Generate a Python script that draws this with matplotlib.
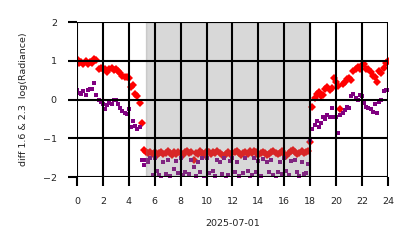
import numpy as np
import matplotlib
matplotlib.use('Agg')
import matplotlib.pyplot as plt

# 10-minute samples over the day, hours 0 .. 24
hours = np.arange(145) / 6.0

red_vals = [
    1.05, 0.95, 0.97, 0.93, 1.00, 0.92,
    0.97, 0.95, 1.05, 1.02, 0.78, 0.82,
    0.78, 0.80, 0.72, 0.78, 0.82, 0.76,
    0.80, 0.74, 0.68, 0.62, 0.58, 0.57,
    0.55, 0.33, 0.38, 0.15, 0.10, -0.10,
    -0.60, -1.30, -1.35, -1.38, -1.35, -1.40,
    -1.36, -1.42, -1.38, -1.35, -1.40, -1.37,
    -1.33, -1.38, -1.42, -1.36, -1.40, -1.35,
    -1.38, -1.44, -1.36, -1.33, -1.39, -1.35,
    -1.55, -1.38, -1.40, -1.34, -1.38, -1.42,
    -1.32, -1.36, -1.40, -1.35, -1.38, -1.34,
    -1.37, -1.42, -1.45, -1.40, -1.36, -1.41,
    -1.38, -1.35, -1.33, -1.37, -1.42, -1.38,
    -1.36, -1.40, -1.34, -1.38, -1.33, -1.36,
    -1.42, -1.38, -1.35, -1.39, -1.44, -1.40,
    -1.36, -1.33, -1.38, -1.41, -1.37, -1.34,
    -1.40, -1.45, -1.38, -1.33, -1.30, -1.36,
    -1.40, -1.37, -1.34, -1.38, -1.35, -1.32,
    -1.10, -0.20, 0.05, 0.15, 0.20, 0.10,
    0.12, 0.28, 0.32, 0.25, 0.30, 0.55,
    0.45, 0.35, -0.25, 0.40, 0.45, 0.52,
    0.55, 0.50, 0.75, 0.80, 0.85, 0.78,
    0.88, 0.92, 0.80, 0.78, 0.70, 0.62,
    0.58, 0.45, 0.75, 0.68, 0.82, 0.95,
    1.00,
]

purple_vals = [
    0.25, 0.18, 0.15, 0.22, 0.12, 0.25,
    0.26, 0.28, 0.42, 0.12, -0.02, -0.05,
    -0.12, -0.25, -0.15, -0.08, -0.12, -0.02,
    0.00, -0.12, -0.22, -0.30, -0.35, -0.36,
    -0.25, -0.70, -0.55, -0.68, -0.75, -0.70,
    -1.55, -1.70, -1.55, -1.62, -1.50, -1.95,
    -1.52, -1.85, -1.95, -2.05, -1.60, -1.92,
    -1.55, -1.98, -2.10, -1.78, -1.58, -1.90,
    -1.52, -1.95, -1.88, -2.08, -1.93, -1.55,
    -1.75, -1.97, -1.62, -1.88, -1.52, -2.05,
    -1.50, -1.90, -2.12, -1.85, -1.98, -1.55,
    -1.60, -1.92, -1.52, -2.06, -1.95, -1.58,
    -1.50, -1.88, -1.62, -1.97, -2.10, -1.90,
    -1.52, -1.85, -2.04, -1.95, -1.50, -1.88,
    -1.58, -1.98, -1.53, -2.08, -1.62, -1.86,
    -1.55, -1.95, -2.06, -1.88, -1.60, -1.92,
    -1.52, -1.85, -1.95, -1.58, -2.10, -1.55,
    -1.88, -1.98, -1.60, -1.92, -1.90, -1.65,
    -1.05, -0.75, -0.65, -0.55, -0.70, -0.60,
    -0.45, -0.50, -0.40, -0.45, -0.22, -0.45,
    -0.45, -0.85, -0.40, -0.35, -0.28, -0.20,
    -0.22, 0.10, 0.15, 0.05, 0.00, 0.12,
    0.08, -0.08, -0.18, -0.22, -0.25, -0.32,
    -0.12, -0.35, -0.05, 0.00, 0.22, 0.25,
    0.25,
]

night = (5.3, 18.0)
xticks = list(range(0, 25, 2))
yticks = [-2, -1, 0, 1, 2]

fig = plt.figure(figsize=(4.14, 2.48), dpi=100)
ax = fig.add_axes([0.186, 0.286, 0.751, 0.625])

ax.plot(hours, red_vals, 'D', color='red', markersize=3.6, markeredgewidth=0, zorder=2)
ax.plot(hours, purple_vals, 's', color='purple', markersize=2.8, markeredgewidth=0, zorder=2)
ax.axvspan(night[0], night[1], color='gray', alpha=0.3, lw=1.0, zorder=2.2)

ax.set_xlim(0, 24)
ax.set_ylim(-2, 2)
ax.set_xticks(xticks)
ax.set_yticks(yticks)
ax.grid(True, color='black', linewidth=1.5)
ax.set_axisbelow(False)
for s in ax.spines.values():
    s.set_visible(False)
ax.tick_params(length=6.5, width=1.5, color='black', labelsize=6.8, pad=8, labelcolor='#222222')

ax.set_xlabel('2025-07-01', fontsize=6.8, labelpad=9, color='#222222')
ax.set_ylabel('diff 1.6 & 2.3  log(Radiance)', fontsize=6.8, labelpad=11, color='#222222')

fig.savefig('out.png', dpi=100)
